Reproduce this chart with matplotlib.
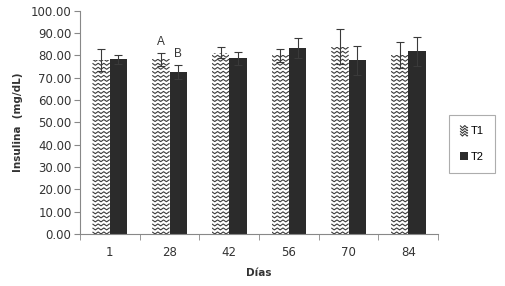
import numpy as np
import matplotlib.pyplot as plt
from matplotlib.collections import LineCollection
from matplotlib.patches import Patch
from matplotlib.legend_handler import HandlerBase

# Data ------------------------------------------------------------------------
dias = ["1", "28", "42", "56", "70", "84"]
t1_mean = [78.0, 78.2, 81.2, 80.0, 84.0, 80.2]
t1_err = [5.0, 3.0, 2.5, 3.0, 8.0, 6.0]
t2_mean = [78.2, 72.5, 78.7, 83.2, 77.8, 81.8]
t2_err = [2.0, 3.2, 3.0, 4.5, 6.5, 6.5]
yticks = np.arange(0, 101, 10)

# Figure ----------------------------------------------------------------------
fig = plt.figure(figsize=(5.06, 2.86), dpi=100)
ax = fig.add_axes([0.158, 0.182, 0.708, 0.78])
plt.rcParams["font.family"] = ["Liberation Sans", "DejaVu Sans"]

x = np.arange(len(dias))
w = 0.29
bars1 = ax.bar(x - w / 2, t1_mean, w, color="white", edgecolor="none", zorder=2)
bars2 = ax.bar(x + w / 2, t2_mean, w, color="#2b2b2b", edgecolor="none", zorder=2)


def wave_lines(x0, y0, bw, bh, dy, period, amp):
    """Zigzag hatch lines covering a rectangle."""
    xs = np.linspace(x0, x0 + bw, 60)
    segs = []
    for yy in np.arange(y0 - dy, y0 + bh + dy, dy):
        ys = yy + amp * np.abs(((xs - x0) / period) % 1 - 0.5) * 2
        segs.append(np.column_stack([xs, ys]))
    return segs


for b in bars1:
    segs = wave_lines(b.get_x(), b.get_y(), b.get_width(), b.get_height(),
                      dy=1.8, period=0.095, amp=0.9)
    lc = LineCollection(segs, colors="#3c3c3c", linewidths=0.8, zorder=3)
    ax.add_collection(lc)
    lc.set_clip_path(b)

ax.errorbar(x - w / 2, t1_mean, yerr=t1_err, fmt="none", ecolor="#3a3a3a",
            elinewidth=0.8, capsize=3, capthick=0.8, zorder=4)
ax.errorbar(x + w / 2, t2_mean, yerr=t2_err, fmt="none", ecolor="#3a3a3a",
            elinewidth=0.8, capsize=3, capthick=0.8, zorder=4)

ax.text(x[1] - w / 2, 86, "A", ha="center", va="center", fontsize=8.5, color="#333333")
ax.text(x[1] + w / 2, 80.7, "B", ha="center", va="center", fontsize=8.5, color="#333333")

ax.set_xlim(-0.5, len(dias) - 0.5)
ax.set_ylim(0, 100)
ax.set_yticks(yticks)
ax.set_yticklabels([f"{v:.2f}" for v in yticks], fontsize=8.5, color="#333333")
ax.set_xticks(x)
ax.set_xticklabels(dias, fontsize=8.5, color="#333333")
ax.set_xticks(np.arange(len(dias) + 1) - 0.5, minor=True)
ax.tick_params(axis="x", which="major", length=0, pad=9)
ax.tick_params(axis="x", which="minor", length=4, color="#888888")
ax.tick_params(axis="y", length=4, color="#888888", pad=2)

for s in ["top", "right"]:
    ax.spines[s].set_visible(False)
ax.spines["left"].set_color("#888888")
ax.spines["bottom"].set_color("#888888")

ax.set_xlabel("Días", fontsize=7.5, fontweight="bold", color="#333333", labelpad=6)
ax.set_ylabel("Insulina  (mg/dL)", fontsize=7.5, fontweight="bold", color="#333333", labelpad=6)


class WaveHandler(HandlerBase):
    def create_artists(self, legend, orig_handle, xd, yd, width, height, fontsize, trans):
        segs = wave_lines(xd, yd + height * 0.1, width, height * 0.5,
                          dy=height * 0.35, period=width * 0.6, amp=height * 0.3)
        lc = LineCollection(segs, colors="#3c3c3c", linewidths=0.8, transform=trans)
        return [lc]


handles = [Patch(facecolor="white", edgecolor="none"),
           Patch(facecolor="#2b2b2b", edgecolor="none")]
leg = fig.legend(handles, ["T1", "T2"], loc="upper left",
                 bbox_to_anchor=(449 / 506, 1 - 115 / 286), fontsize=8,
                 frameon=True, fancybox=False, edgecolor="#999999",
                 handlelength=0.7, handleheight=0.7, handletextpad=0.3,
                 borderpad=1.0, labelspacing=1.4, borderaxespad=0,
                 handler_map={handles[0]: WaveHandler()})
leg.get_frame().set_linewidth(0.8)

fig.savefig("out.png", dpi=100)
